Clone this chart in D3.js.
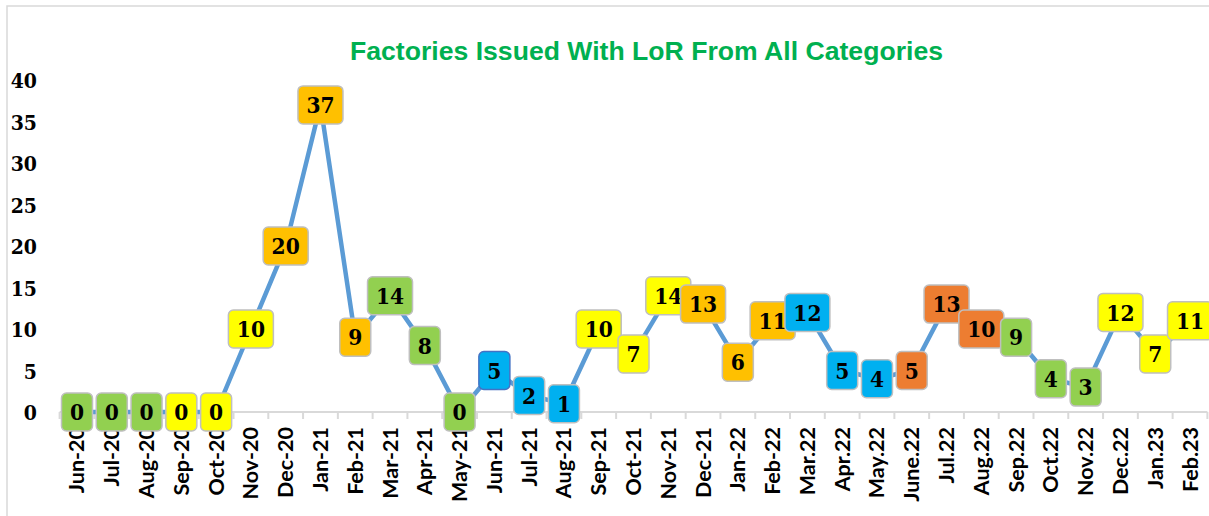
<!DOCTYPE html>
<html><head><meta charset="utf-8">
<script src="https://cdn.jsdelivr.net/npm/d3@7"></script>
<style>body{margin:0;background:#fff}svg{display:block}.num{font-family:"DejaVu Serif Condensed","DejaVu Serif",serif;font-stretch:condensed;font-weight:bold}</style>
</head><body><svg id="c" width="1209" height="516"></svg>
<script>
const categories = ["Jun-20","Jul-20","Aug-20","Sep-20","Oct-20","Nov-20","Dec-20","Jan-21","Feb-21","Mar-21","Apr-21","May-21","Jun-21","Jul-21","Aug-21","Sep-21","Oct-21","Nov-21","Dec-21","Jan-22","Feb-22","Mar.22","Apr.22","May.22","June.22","Jul.22","Aug.22","Sep.22","Oct.22","Nov.22","Dec.22","Jan.23","Feb.23"];
const values = [0,0,0,0,0,10,20,37,9,14,8,0,5,2,1,10,7,14,13,6,11,12,5,4,5,13,10,9,4,3,12,7,11];
const labelColors = ["green","green","green","yellow","yellow","yellow","orange","orange","orange","green","green","green","blue","blue","blue","yellow","yellow","yellow","orange","orange","orange","blue","blue","blue","darkorange","darkorange","darkorange","green","green","green","yellow","yellow","yellow"];
const yTicks = [0,5,10,15,20,25,30,35,40];
const title = "Factories Issued With LoR From All Categories";

const palette = {green:"#92D050", yellow:"#FFFF00", orange:"#FFC000", blue:"#00B0F0", darkorange:"#ED7D31"};
const svg = d3.select("#c");

// frame
svg.append("rect").attr("x",7).attr("y",6).attr("width",1210).attr("height",520)
  .attr("fill","none").attr("stroke","#d9d9d9").attr("stroke-width",1.5);

svg.append("text").attr("x",646.5).attr("y",60).attr("text-anchor","middle")
  .attr("font-family","Liberation Sans, Arial, sans-serif").attr("font-weight","bold")
  .attr("font-size",25.5).attr("fill","#00B050")
  .attr("textLength",593).attr("lengthAdjust","spacingAndGlyphs").text(title);

const x = d3.scaleBand().domain(categories).range([59.6, 1207.4]).padding(0);
const y = d3.scaleLinear().domain([0,40]).range([412, 80]);

// y axis labels
const yAxis = d3.axisLeft(y).tickValues(yTicks).tickSize(0).tickPadding(0);
const gy = svg.append("g").attr("transform","translate(37,0)").call(yAxis);
gy.select(".domain").remove();
gy.selectAll("text").attr("class","num").attr("font-family",null)
  .attr("font-size",21).attr("fill","#000").attr("dy","0.36em");

// x axis
const xAxis = d3.axisBottom(x).tickSize(0).tickPadding(0);
const gx = svg.append("g").attr("transform",`translate(0,${y(0)})`).call(xAxis);
gx.select(".domain").attr("stroke","#d9d9d9").attr("stroke-width",2).attr("d",`M${x.range()[0]},0H${x.range()[1]}`);
gx.selectAll("text").attr("font-family","Lato, sans-serif").attr("font-weight","bold")
  .attr("font-size",21.5).attr("fill","#000")
  .attr("text-anchor","end").attr("transform","translate(7.5,15) rotate(-90)").attr("dy",0).attr("x",0).attr("y",0);
// boundary tick marks
const bounds = categories.map(c => x(c)).concat([x.range()[1]]);
gx.selectAll(".bt").data(bounds).join("line").attr("class","bt")
  .attr("x1",d=>d).attr("x2",d=>d).attr("y1",0).attr("y2",7)
  .attr("stroke","#d9d9d9").attr("stroke-width",2);

const cx = c => x(c) + x.bandwidth()/2;

// line
const line = d3.line().x((d,i)=>cx(categories[i])).y(d=>y(d));
svg.append("path").datum(values).attr("d",line).attr("fill","none")
  .attr("stroke","#5B9BD5").attr("stroke-width",4.5).attr("stroke-linejoin","round");

// labels
const lg = svg.append("g");
values.forEach((v,i) => {
  const w = String(v).length > 1 ? 45 : 31;
  const h = 38;
  const g = lg.append("g").attr("transform",`translate(${cx(categories[i])},${y(v)})`);
  g.append("rect").attr("x",-w/2).attr("y",-h/2).attr("width",w).attr("height",h).attr("rx",5)
    .attr("fill",palette[labelColors[i]])
    .attr("stroke", i===12 ? "#4472C4" : "#BFBFBF").attr("stroke-width",1.5);
  g.append("text").attr("class","num").attr("text-anchor","middle").attr("dy","0.36em")
    .attr("font-size",22.5).attr("fill","#000").text(v);
});
</script></body></html>
